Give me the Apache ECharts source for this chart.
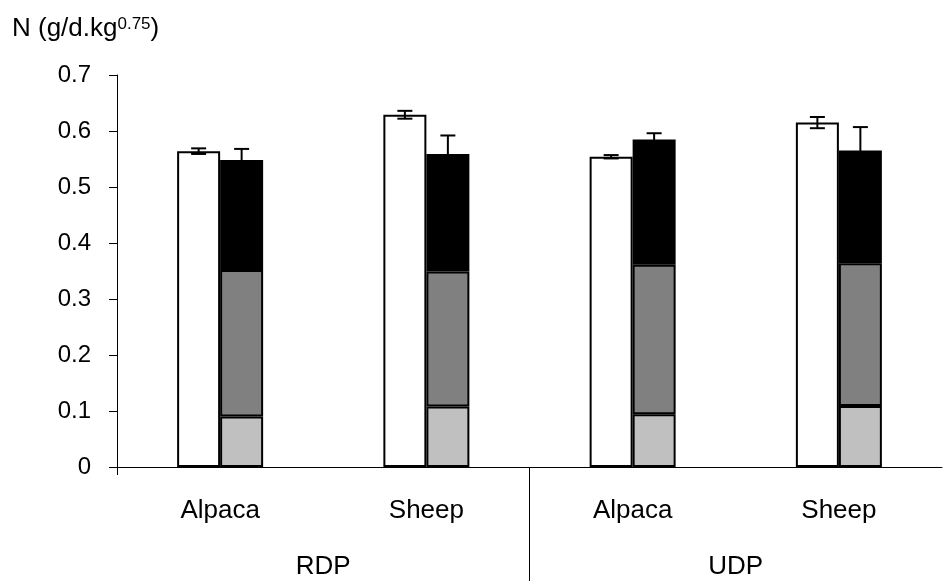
<!DOCTYPE html>
<html>
<head>
<meta charset="utf-8">
<script src="https://cdn.jsdelivr.net/npm/echarts@6/dist/echarts.min.js"></script>
<style>
  html, body { margin: 0; padding: 0; background: #fff; }
  #chart { width: 944px; height: 581px; }
</style>
</head>
<body>
<div id="chart"></div>
<script>
// Categories: animal within each protein source
const animals = ['Alpaca', 'Sheep', 'Alpaca', 'Sheep'];
const sources = ['RDP', 'UDP'];

// Left (open) bar: total N with its SE
const totalN = [0.564, 0.629, 0.554, 0.615];
const totalErr = [0.005, 0.007, 0.003, 0.010];

// Right bar: three stacked fractions (bottom to top) with SE on the stack total
const fracLow = [0.090, 0.108, 0.094, 0.109];
const fracMid = [0.262, 0.241, 0.267, 0.255];
const fracTop = [0.196, 0.210, 0.224, 0.201];
const stackErr = [0.020, 0.033, 0.011, 0.042];

const FONT = '"Liberation Sans", Arial, sans-serif';
const BAR_W = 43;

const stackTotal = fracLow.map((v, i) => v + fracMid[i] + fracTop[i]);

function errorBars(offset) {
  return function (params, api) {
    const i = api.value(0), v = api.value(1), e = api.value(2);
    const x = api.coord([i, v])[0] + offset;
    const hi = api.coord([i, v + e])[1];
    const lo = api.coord([i, v - e])[1];
    const half = 7.5;
    const style = { stroke: '#000', lineWidth: 2 };
    return {
      type: 'group',
      children: [
        { type: 'line', shape: { x1: x, y1: hi, x2: x, y2: lo }, style },
        { type: 'line', shape: { x1: x - half, y1: hi, x2: x + half, y2: hi }, style },
        { type: 'line', shape: { x1: x - half, y1: lo, x2: x + half, y2: lo }, style }
      ]
    };
  };
}

const barBorder = { borderColor: '#000', borderWidth: 2 };

const chart = echarts.init(document.getElementById('chart'));
chart.setOption({
  animation: false,
  backgroundColor: '#fff',
  title: {
    text: '{a|N (g/d.kg}{s|0.75}{a|)}',
    left: 12, top: 16, padding: 0,
    textStyle: {
      fontWeight: 'normal',
      rich: {
        a: { fontFamily: FONT, fontSize: 26, fontWeight: 'normal', color: '#000' },
        s: { fontFamily: FONT, fontSize: 17, fontWeight: 'normal', color: '#000', verticalAlign: 'top' }
      }
    }
  },
  grid: { left: 117, right: 2, top: 75, bottom: 114, containLabel: false },
  xAxis: [
    {
      type: 'category', data: animals, position: 'bottom',
      axisLine: { show: true, lineStyle: { color: '#000', width: 1 } },
      axisTick: { show: false },
      axisLabel: { color: '#000', fontFamily: FONT, fontSize: 26, margin: 31 }
    },
    {
      type: 'value', min: 0, max: 4, position: 'bottom',
      axisLine: { show: false }, splitLine: { show: false },
      axisTick: { show: true, customValues: [2], length: 114, lineStyle: { color: '#000', width: 1 } },
      axisLabel: {
        show: true, customValues: [1, 3], color: '#000', fontFamily: FONT, fontSize: 26, margin: 87,
        formatter: v => sources[Math.floor(v / 2)]
      }
    },
    {
      type: 'value', min: 0, max: 4, position: 'bottom',
      axisLine: { show: false }, splitLine: { show: false },
      axisTick: { show: true, customValues: [0], length: 8, lineStyle: { color: '#000', width: 1 } },
      axisLabel: { show: false }
    }
  ],
  yAxis: {
    type: 'value', min: 0, max: 0.7, interval: 0.1,
    axisLine: { show: true, lineStyle: { color: '#000', width: 1 } },
    axisTick: { show: true, length: 8, lineStyle: { color: '#000', width: 1 } },
    splitLine: { show: false },
    axisLabel: {
      color: '#000', fontFamily: FONT, fontSize: 24, margin: 26,
      formatter: v => (v === 0 ? '0' : v.toFixed(1))
    }
  },
  series: [
    {
      name: 'Total', type: 'bar', barWidth: BAR_W, barGap: '0%',
      data: totalN,
      itemStyle: Object.assign({ color: '#fff' }, barBorder)
    },
    {
      name: 'Low', type: 'bar', stack: 'parts', barWidth: BAR_W,
      data: fracLow,
      itemStyle: Object.assign({ color: '#c0c0c0' }, barBorder)
    },
    {
      name: 'Mid', type: 'bar', stack: 'parts', barWidth: BAR_W,
      data: fracMid,
      itemStyle: Object.assign({ color: '#808080' }, barBorder)
    },
    {
      name: 'Top', type: 'bar', stack: 'parts', barWidth: BAR_W,
      data: fracTop,
      itemStyle: Object.assign({ color: '#000' }, barBorder)
    },
    {
      name: 'Total SE', type: 'custom', z: 10,
      renderItem: errorBars(-BAR_W / 2),
      data: totalN.map((v, i) => [i, v, totalErr[i]])
    },
    {
      name: 'Stack SE', type: 'custom', z: 10,
      renderItem: errorBars(BAR_W / 2),
      data: stackTotal.map((v, i) => [i, v, stackErr[i]])
    }
  ]
});
</script>
</body>
</html>
